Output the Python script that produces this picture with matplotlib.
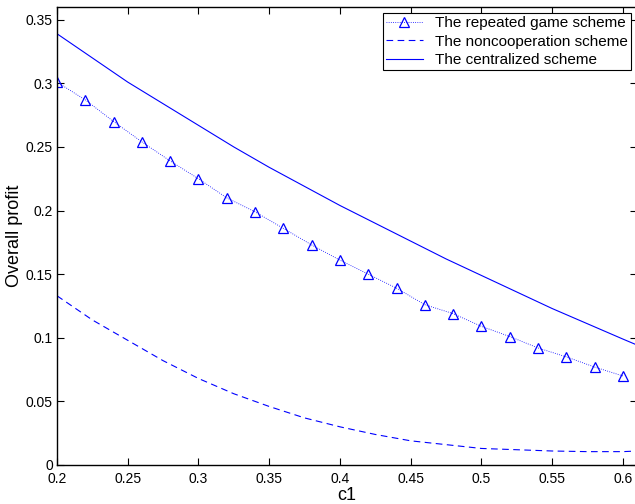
import numpy as np
import matplotlib.pyplot as plt

plt.rcParams['font.family'] = ['Liberation Sans', 'DejaVu Sans']

# repeated game scheme (markers)
c1_rep = [0.20, 0.22, 0.24, 0.26, 0.28, 0.30, 0.32, 0.34, 0.36, 0.38, 0.40,
          0.42, 0.44, 0.46, 0.48, 0.50, 0.52, 0.54, 0.56, 0.58, 0.60]
profit_rep = [0.301, 0.287, 0.270, 0.254, 0.239, 0.225, 0.210, 0.199, 0.186, 0.173, 0.161,
              0.150, 0.139, 0.126, 0.119, 0.109, 0.101, 0.092, 0.085, 0.077, 0.070]

# curves
c1_curve = [0.200, 0.225, 0.250, 0.275, 0.300, 0.325, 0.350, 0.375, 0.400,
            0.425, 0.450, 0.475, 0.500, 0.525, 0.550, 0.575, 0.600, 0.610]
profit_noncoop = [0.133, 0.114, 0.098, 0.082, 0.068, 0.056, 0.046, 0.037, 0.030,
                  0.024, 0.019, 0.016, 0.013, 0.012, 0.011, 0.0105, 0.0105, 0.011]
profit_central = [0.339, 0.320, 0.301, 0.284, 0.267, 0.250, 0.234, 0.219, 0.204,
                  0.190, 0.176, 0.162, 0.149, 0.136, 0.123, 0.111, 0.099, 0.0943]

fig = plt.figure(figsize=(6.35, 5.04), dpi=100)
# right spine sits just past the image edge, as in the reference
ax = fig.add_axes([0.0898, 0.0774, 0.9134, 0.9086])

ax.plot(c1_rep, profit_rep, color='blue', linestyle=':', linewidth=0.6,
        marker='^', markersize=7, markerfacecolor='none', markeredgewidth=0.9,
        label='The repeated game scheme')
ax.plot(c1_curve, profit_noncoop, color='blue', linestyle=(0, (6, 4)), linewidth=0.8,
        label='The noncooperation scheme')
ax.plot(c1_curve, profit_central, color='blue', linestyle='-', linewidth=0.8,
        label='The centralized scheme')

ax.set_xlim(0.2, 0.61)
ax.set_ylim(0, 0.36)
ax.set_xticks([0.2, 0.25, 0.3, 0.35, 0.4, 0.45, 0.5, 0.55, 0.6])
ax.set_xticklabels(['0.2', '0.25', '0.3', '0.35', '0.4', '0.45', '0.5', '0.55', '0.6'])
ax.set_yticks([0, 0.05, 0.1, 0.15, 0.2, 0.25, 0.3, 0.35])
ax.set_yticklabels(['0', '0.05', '0.1', '0.15', '0.2', '0.25', '0.3', '0.35'])
ax.tick_params(direction='in', top=True, right=True, length=5, width=0.8,
               labelsize=10, pad=3)
ax.tick_params(axis='x', pad=5)
for s in ax.spines.values():
    s.set_linewidth(1.0)

ax.set_xlabel('c1', fontsize=13, labelpad=1)
ax.set_ylabel('Overall profit', fontsize=13, labelpad=2)

leg = ax.legend(loc='upper right', fontsize=11, fancybox=False, framealpha=1,
                edgecolor='black', borderpad=0.2, labelspacing=0.3,
                handlelength=2.4, handletextpad=0.8, borderaxespad=0.4,
                numpoints=1)
leg.get_frame().set_linewidth(0.8)

fig.savefig('out.png', dpi=100)
